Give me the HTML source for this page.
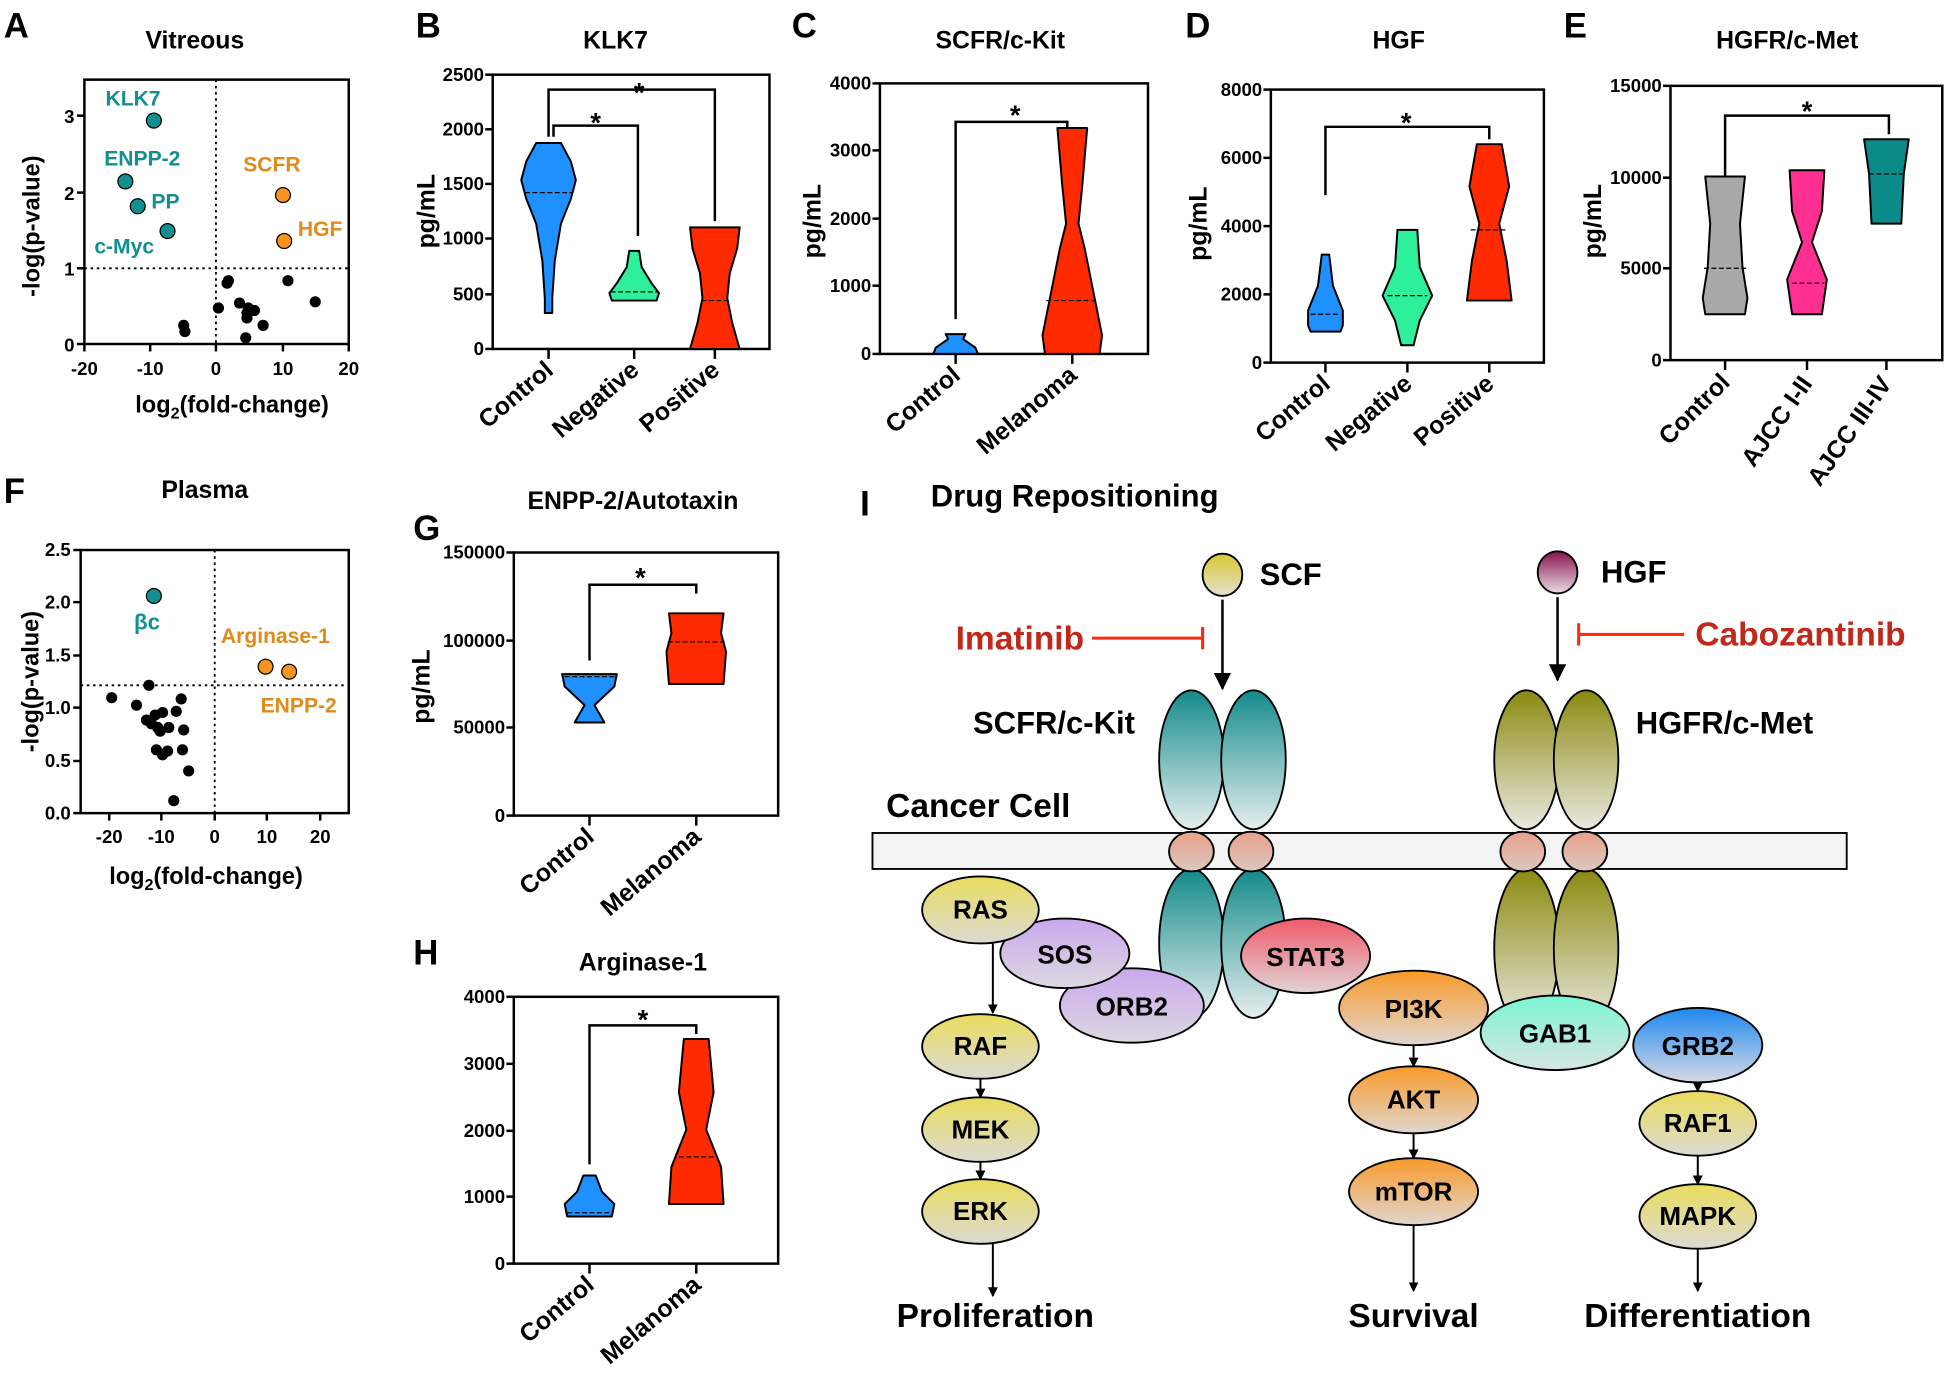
<!DOCTYPE html>
<html><head><meta charset="utf-8"><style>
html,body{margin:0;padding:0;background:#fff}
svg{display:block}
text{font-family:"Liberation Sans",Arial,sans-serif;font-weight:bold}
</style></head><body>
<svg width="1946" height="1383" viewBox="0 0 1568 1114" xmlns="http://www.w3.org/2000/svg">
<defs>
<linearGradient id="gy" x1="0" y1="0" x2="0" y2="1"><stop offset="0" stop-color="#e8dc5c"/><stop offset="1" stop-color="#dcdad4"/></linearGradient>
<linearGradient id="gp" x1="0" y1="0" x2="0" y2="1"><stop offset="0" stop-color="#c9a8ee"/><stop offset="1" stop-color="#dcd8e0"/></linearGradient>
<linearGradient id="gr" x1="0" y1="0" x2="0" y2="1"><stop offset="0" stop-color="#f05a6a"/><stop offset="1" stop-color="#e0d4d6"/></linearGradient>
<linearGradient id="go" x1="0" y1="0" x2="0" y2="1"><stop offset="0" stop-color="#f89a2a"/><stop offset="1" stop-color="#e0d6d0"/></linearGradient>
<linearGradient id="gm" x1="0" y1="0" x2="0" y2="1"><stop offset="0" stop-color="#7af5d2"/><stop offset="1" stop-color="#d8e4e2"/></linearGradient>
<linearGradient id="gb" x1="0" y1="0" x2="0" y2="1"><stop offset="0" stop-color="#1e88f0"/><stop offset="1" stop-color="#d6dae4"/></linearGradient>
<linearGradient id="gt" x1="0" y1="0" x2="0" y2="1"><stop offset="0" stop-color="#138a8a"/><stop offset="1" stop-color="#e6eeee"/></linearGradient>
<linearGradient id="gol" x1="0" y1="0" x2="0" y2="1"><stop offset="0" stop-color="#8a8a10"/><stop offset="1" stop-color="#eae8e0"/></linearGradient>
<linearGradient id="gs" x1="0" y1="0" x2="0" y2="1"><stop offset="0" stop-color="#d8c830"/><stop offset="1" stop-color="#e4e0d0"/></linearGradient>
<linearGradient id="gh" x1="0" y1="0" x2="0" y2="1"><stop offset="0" stop-color="#8a1050"/><stop offset="1" stop-color="#e6dce0"/></linearGradient>
<linearGradient id="gc" x1="0" y1="0" x2="0" y2="1"><stop offset="0" stop-color="#e8a08a"/><stop offset="1" stop-color="#dcc8c0"/></linearGradient>
<marker id="ar" markerWidth="8" markerHeight="8" refX="7" refY="4" orient="auto" markerUnits="userSpaceOnUse"><path d="M0,0 L8,4 L0,8 z" fill="#000"/></marker>
<marker id="ar2" markerWidth="14" markerHeight="14" refX="13" refY="7" orient="auto" markerUnits="userSpaceOnUse"><path d="M0,0 L14,7 L0,14 z" fill="#000"/></marker>
</defs>

<!-- Panel letters & titles -->
<g font-size="28"><text x="3" y="30">A</text><text x="335" y="30">B</text><text x="638" y="30">C</text><text x="955" y="30">D</text><text x="1260" y="30">E</text><text x="3" y="405">F</text><text x="333" y="435">G</text><text x="333" y="777">H</text><text x="693" y="415">I</text></g>
<g font-size="20" text-anchor="middle"><text x="157" y="39">Vitreous</text><text x="496" y="39">KLK7</text><text x="806" y="39">SCFR/c-Kit</text><text x="1127" y="39">HGF</text><text x="1440" y="39">HGFR/c-Met</text><text x="165" y="401">Plasma</text><text x="510" y="410">ENPP-2/Autotaxin</text><text x="518" y="782">Arginase-1</text></g>

<!-- Panel A -->
<rect x="68" y="64" width="213" height="213" fill="none" stroke="#000" stroke-width="2"/>
<line x1="174" y1="64" x2="174" y2="277" stroke="#000" stroke-dasharray="2,3" stroke-width="1.5"/>
<line x1="68" y1="216" x2="281" y2="216" stroke="#000" stroke-dasharray="2,3" stroke-width="1.5"/>
<g stroke="#000" stroke-width="2"><line x1="62" y1="93" x2="68" y2="93"/><line x1="62" y1="155" x2="68" y2="155"/><line x1="62" y1="216" x2="68" y2="216"/><line x1="62" y1="277" x2="68" y2="277"/>
<line x1="68" y1="277" x2="68" y2="283"/><line x1="121" y1="277" x2="121" y2="283"/><line x1="174" y1="277" x2="174" y2="283"/><line x1="228" y1="277" x2="228" y2="283"/><line x1="281" y1="277" x2="281" y2="283"/></g>
<g font-size="15" text-anchor="end"><text x="60" y="99">3</text><text x="60" y="161">2</text><text x="60" y="222">1</text><text x="60" y="283">0</text></g>
<g font-size="15" text-anchor="middle"><text x="68" y="302">-20</text><text x="121" y="302">-10</text><text x="174" y="302">0</text><text x="228" y="302">10</text><text x="281" y="302">20</text></g>
<text x="187" y="332" font-size="19" text-anchor="middle">log<tspan font-size="13" dy="5">2</tspan><tspan dy="-5">(fold-change)</tspan></text>
<text transform="translate(32,182) rotate(-90)" font-size="19" text-anchor="middle">-log(p-value)</text>
<g fill="#138f8f" stroke="#000" stroke-width="1"><circle cx="124" cy="97" r="6"/><circle cx="101" cy="146" r="6"/><circle cx="111" cy="166" r="6"/><circle cx="135" cy="186" r="6"/></g>
<g fill="#f5941e" stroke="#000" stroke-width="1"><circle cx="228" cy="157" r="6"/><circle cx="229" cy="194" r="6"/></g>
<g fill="#000"><circle cx="183" cy="228" r="4.5"/><circle cx="184" cy="226" r="4.5"/><circle cx="232" cy="226" r="4.5"/><circle cx="254" cy="243" r="4.5"/><circle cx="176" cy="248" r="4.5"/><circle cx="193" cy="244" r="4.5"/><circle cx="200" cy="248" r="4.5"/><circle cx="205" cy="250" r="4.5"/><circle cx="199" cy="252" r="4.5"/><circle cx="199" cy="256" r="4.5"/><circle cx="212" cy="262" r="4.5"/><circle cx="148" cy="262" r="4.5"/><circle cx="149" cy="267" r="4.5"/><circle cx="198" cy="272" r="4.5"/></g>
<g font-size="17" fill="#138f8f"><text x="85" y="85">KLK7</text><text x="84" y="133">ENPP-2</text><text x="122" y="168">PP</text><text x="76" y="204">c-Myc</text></g>
<g font-size="17" fill="#e08a1a"><text x="196" y="138">SCFR</text><text x="240" y="190">HGF</text></g>

<g stroke="#000" stroke-width="2" fill="none">
<rect x="397" y="60" width="223" height="221"/>
<line x1="391" y1="60" x2="397" y2="60"/><line x1="391" y1="104" x2="397" y2="104"/><line x1="391" y1="148" x2="397" y2="148"/><line x1="391" y1="192" x2="397" y2="192"/><line x1="391" y1="237" x2="397" y2="237"/><line x1="391" y1="281" x2="397" y2="281"/>
<line x1="442" y1="281" x2="442" y2="289"/><line x1="511" y1="281" x2="511" y2="289"/><line x1="576" y1="281" x2="576" y2="289"/>
<polyline points="442,110 442,72 576,72 576,178"/><polyline points="446,110 446,101 514,101 514,190"/>
<rect x="709" y="67" width="216" height="218"/>
<line x1="703" y1="67" x2="709" y2="67"/><line x1="703" y1="121" x2="709" y2="121"/><line x1="703" y1="176" x2="709" y2="176"/><line x1="703" y1="230" x2="709" y2="230"/><line x1="703" y1="285" x2="709" y2="285"/>
<line x1="770" y1="285" x2="770" y2="293"/><line x1="864" y1="285" x2="864" y2="293"/>
<polyline points="770,257 770,98 860,98 860,103"/>
<rect x="1024" y="72" width="220" height="220"/>
<line x1="1018" y1="72" x2="1024" y2="72"/><line x1="1018" y1="127" x2="1024" y2="127"/><line x1="1018" y1="182" x2="1024" y2="182"/><line x1="1018" y1="237" x2="1024" y2="237"/><line x1="1018" y1="292" x2="1024" y2="292"/>
<line x1="1068" y1="292" x2="1068" y2="300"/><line x1="1134" y1="292" x2="1134" y2="300"/><line x1="1200" y1="292" x2="1200" y2="300"/>
<polyline points="1068,157 1068,102 1200,102 1200,112"/>
<rect x="1346" y="69" width="219" height="221"/>
<line x1="1340" y1="69" x2="1346" y2="69"/><line x1="1340" y1="143" x2="1346" y2="143"/><line x1="1340" y1="216" x2="1346" y2="216"/><line x1="1340" y1="290" x2="1346" y2="290"/>
<line x1="1390" y1="290" x2="1390" y2="298"/><line x1="1456" y1="290" x2="1456" y2="298"/><line x1="1520" y1="290" x2="1520" y2="298"/>
<polyline points="1390,148 1390,93 1522,93 1522,108"/>
<rect x="65" y="443" width="216" height="212"/>
<line x1="59" y1="443" x2="65" y2="443"/><line x1="59" y1="485" x2="65" y2="485"/><line x1="59" y1="528" x2="65" y2="528"/><line x1="59" y1="570" x2="65" y2="570"/><line x1="59" y1="613" x2="65" y2="613"/><line x1="59" y1="655" x2="65" y2="655"/>
<rect x="414" y="445" width="213" height="212"/>
<line x1="408" y1="445" x2="414" y2="445"/><line x1="408" y1="516" x2="414" y2="516"/><line x1="408" y1="586" x2="414" y2="586"/><line x1="408" y1="657" x2="414" y2="657"/>
<line x1="475" y1="657" x2="475" y2="665"/><line x1="561" y1="657" x2="561" y2="665"/>
<polyline points="475,532 475,471 561,471 561,478"/>
<rect x="414" y="803" width="213" height="215"/>
<line x1="408" y1="803" x2="414" y2="803"/><line x1="408" y1="857" x2="414" y2="857"/><line x1="408" y1="911" x2="414" y2="911"/><line x1="408" y1="964" x2="414" y2="964"/><line x1="408" y1="1018" x2="414" y2="1018"/>
<line x1="475" y1="1018" x2="475" y2="1026"/><line x1="561" y1="1018" x2="561" y2="1026"/>
<polyline points="475,938 475,826 561,826 561,833"/>
</g>
<g font-size="22" text-anchor="middle"><text x="515" y="82">*</text><text x="480" y="106">*</text><text x="818" y="100">*</text><text x="1133" y="106">*</text><text x="1456" y="97">*</text><text x="516" y="473">*</text><text x="518" y="829">*</text></g>

<g font-size="15" text-anchor="end">
<text x="390" y="65">2500</text><text x="390" y="109">2000</text><text x="390" y="153">1500</text><text x="390" y="197">1000</text><text x="390" y="242">500</text><text x="390" y="286">0</text>
<text x="702" y="72">4000</text><text x="702" y="126">3000</text><text x="702" y="181">2000</text><text x="702" y="235">1000</text><text x="702" y="290">0</text>
<text x="1017" y="77">8000</text><text x="1017" y="132">6000</text><text x="1017" y="187">4000</text><text x="1017" y="242">2000</text><text x="1017" y="297">0</text>
<text x="1339" y="74">15000</text><text x="1339" y="148">10000</text><text x="1339" y="221">5000</text><text x="1339" y="295">0</text>
<text x="57" y="448">2.5</text><text x="57" y="490">2.0</text><text x="57" y="533">1.5</text><text x="57" y="575">1.0</text><text x="57" y="618">0.5</text><text x="57" y="660">0.0</text>
<text x="407" y="450">150000</text><text x="407" y="521">100000</text><text x="407" y="591">50000</text><text x="407" y="662">0</text>
<text x="407" y="808">4000</text><text x="407" y="862">3000</text><text x="407" y="916">2000</text><text x="407" y="969">1000</text><text x="407" y="1023">0</text>
</g>
<g font-size="20" text-anchor="middle">
<text transform="translate(350,170) rotate(-90)">pg/mL</text><text transform="translate(661,178) rotate(-90)">pg/mL</text><text transform="translate(972,180) rotate(-90)">pg/mL</text><text transform="translate(1290,178) rotate(-90)">pg/mL</text><text transform="translate(346,553) rotate(-90)">pg/mL</text>
</g>
<g font-size="20" text-anchor="end">
<text transform="translate(447,300) rotate(-40)">Control</text><text transform="translate(516,300) rotate(-40)">Negative</text><text transform="translate(581,300) rotate(-40)">Positive</text>
<text transform="translate(775,304) rotate(-40)">Control</text><text transform="translate(869,304) rotate(-40)">Melanoma</text>
<text transform="translate(1073,311) rotate(-40)">Control</text><text transform="translate(1139,311) rotate(-40)">Negative</text><text transform="translate(1205,311) rotate(-40)">Positive</text>
<text transform="translate(1395,309) rotate(-45)">Control</text><text transform="translate(1461,309) rotate(-55)">AJCC I-II</text><text transform="translate(1525,309) rotate(-55)">AJCC III-IV</text>
<text transform="translate(480,676) rotate(-40)">Control</text><text transform="translate(566,676) rotate(-40)">Melanoma</text>
<text transform="translate(480,1037) rotate(-40)">Control</text><text transform="translate(566,1037) rotate(-40)">Melanoma</text>
</g>

<line x1="173" y1="443" x2="173" y2="655" stroke="#000" stroke-dasharray="2,3" stroke-width="1.5"/>
<line x1="65" y1="552" x2="281" y2="552" stroke="#000" stroke-dasharray="2,3" stroke-width="1.5"/>
<g stroke="#000" stroke-width="2"><line x1="88" y1="655" x2="88" y2="661"/><line x1="130" y1="655" x2="130" y2="661"/><line x1="173" y1="655" x2="173" y2="661"/><line x1="215" y1="655" x2="215" y2="661"/><line x1="258" y1="655" x2="258" y2="661"/></g>
<g font-size="15" text-anchor="middle"><text x="88" y="679">-20</text><text x="130" y="679">-10</text><text x="173" y="679">0</text><text x="215" y="679">10</text><text x="258" y="679">20</text></g>
<text x="166" y="712" font-size="19" text-anchor="middle">log<tspan font-size="13" dy="5">2</tspan><tspan dy="-5">(fold-change)</tspan></text>
<text transform="translate(31,549) rotate(-90)" font-size="19" text-anchor="middle">-log(p-value)</text>
<circle cx="124" cy="480" r="6" fill="#138f8f" stroke="#000"/>
<circle cx="214" cy="537" r="6" fill="#f5941e" stroke="#000"/><circle cx="233" cy="541" r="6" fill="#f5941e" stroke="#000"/>
<text x="108" y="507" font-size="18" fill="#138f8f">βc</text>
<g font-size="17" fill="#e08a1a"><text x="178" y="518">Arginase-1</text><text x="210" y="574">ENPP-2</text></g>
<g fill="#000"><circle cx="90" cy="562" r="4.5"/><circle cx="110" cy="568" r="4.5"/><circle cx="120" cy="552" r="4.5"/><circle cx="146" cy="563" r="4.5"/><circle cx="142" cy="573" r="4.5"/><circle cx="118" cy="580" r="4.5"/><circle cx="125" cy="576" r="4.5"/><circle cx="131" cy="574" r="4.5"/><circle cx="136" cy="586" r="4.5"/><circle cx="127" cy="586" r="4.5"/><circle cx="122" cy="583" r="4.5"/><circle cx="148" cy="588" r="4.5"/><circle cx="126" cy="604" r="4.5"/><circle cx="131" cy="608" r="4.5"/><circle cx="135" cy="605" r="4.5"/><circle cx="147" cy="604" r="4.5"/><circle cx="152" cy="621" r="4.5"/><circle cx="140" cy="645" r="4.5"/><circle cx="129" cy="589" r="4.5"/></g>

<g stroke="#000" stroke-width="1.6" stroke-linejoin="round">
<polygon fill="#1e90ff" points="432,115 424,130 420,145 424,160 432,180 437,210 439,240 439,252 445,252 445,240 447,210 452,180 460,160 464,145 460,130 452,115"/>
<polygon fill="#2ef09a" points="507,202 505,215 497,228 491,236 493,242 529,242 531,236 525,228 517,215 515,202"/>
<polygon fill="#ff2a00" points="556,183 558,200 564,220 566,240 562,260 556,281 596,281 590,260 586,240 588,220 594,200 596,183"/>
<polygon fill="#1e90ff" points="762,269 764,273 754,280 752,285 788,285 786,280 776,273 778,269"/>
<polygon fill="#ff2a00" points="852,103 856,150 859,180 854,200 846,240 840,270 842,285 886,285 888,270 882,240 874,200 869,180 872,150 876,103"/>
<polygon fill="#1e90ff" points="1065,205 1062,230 1054,250 1054,262 1056,267 1080,267 1082,262 1082,250 1074,230 1071,205"/>
<polygon fill="#2ef09a" points="1126,185 1124,215 1114,238 1124,258 1129,278 1139,278 1144,258 1154,238 1144,215 1142,185"/>
<polygon fill="#ff2a00" points="1190,116 1184,150 1192,180 1186,210 1182,242 1218,242 1214,210 1208,180 1216,150 1210,116"/>
<polygon fill="#a8a8a8" points="1374,142 1378,180 1376,215 1372,240 1374,253 1406,253 1408,240 1404,215 1402,180 1406,142"/>
<polygon fill="#ff2f92" points="1442,137 1444,170 1452,195 1440,225 1444,253 1468,253 1472,225 1460,195 1468,170 1470,137"/>
<polygon fill="#0b8a8a" points="1502,112 1506,140 1508,180 1532,180 1534,140 1538,112"/>
<polygon fill="#1e90ff" points="453,543 455,553 471,568 463,582 487,582 479,568 495,553 497,543"/>
<polygon fill="#ff2a00" points="539,494 541,510 537,525 539,551 583,551 585,525 581,510 583,494"/>
<polygon fill="#1e90ff" points="470,947 465,960 455,970 457,980 493,980 495,970 485,960 480,947"/>
<polygon fill="#ff2a00" points="551,837 547,880 553,910 541,940 539,970 583,970 581,940 569,910 575,880 571,837"/>
</g>
<g stroke="#000" stroke-width="1" stroke-dasharray="4,2"><line x1="423" y1="155" x2="461" y2="155"/><line x1="492" y1="235" x2="530" y2="235"/><line x1="565" y1="242" x2="587" y2="242"/><line x1="843" y1="242" x2="885" y2="242"/><line x1="1056" y1="253" x2="1080" y2="253"/><line x1="1118" y1="238" x2="1150" y2="238"/><line x1="1185" y1="185" x2="1215" y2="185"/><line x1="1373" y1="216" x2="1407" y2="216"/><line x1="1444" y1="228" x2="1470" y2="228"/><line x1="1506" y1="140" x2="1534" y2="140"/><line x1="455" y1="545" x2="495" y2="545"/><line x1="538" y1="517" x2="584" y2="517"/><line x1="457" y1="977" x2="493" y2="977"/><line x1="547" y1="932" x2="575" y2="932"/></g>

<!-- Panel I -->
<text x="750" y="408" font-size="25">Drug Repositioning</text>
<ellipse cx="985" cy="463" rx="16" ry="17" fill="url(#gs)" stroke="#000" stroke-width="1.5"/>
<text x="1015" y="471" font-size="25">SCF</text>
<ellipse cx="1255" cy="461" rx="16" ry="17" fill="url(#gh)" stroke="#000" stroke-width="1.5"/>
<text x="1290" y="469" font-size="25">HGF</text>
<line x1="985" y1="483" x2="985" y2="555" stroke="#000" stroke-width="2" marker-end="url(#ar2)"/>
<line x1="1255" y1="481" x2="1255" y2="548" stroke="#000" stroke-width="2" marker-end="url(#ar2)"/>
<text x="770" y="523" font-size="27" fill="#c0281a">Imatinib</text>
<line x1="880" y1="514" x2="969" y2="514" stroke="#ff2a10" stroke-width="2.5"/><line x1="969" y1="505" x2="969" y2="523" stroke="#ff2a10" stroke-width="2.5"/>
<text x="1366" y="520" font-size="27" fill="#c0281a">Cabozantinib</text>
<line x1="1272" y1="511" x2="1357" y2="511" stroke="#ff2a10" stroke-width="2.5"/><line x1="1272" y1="502" x2="1272" y2="520" stroke="#ff2a10" stroke-width="2.5"/>
<text x="784" y="591" font-size="25">SCFR/c-Kit</text>
<text x="1318" y="591" font-size="25">HGFR/c-Met</text>
<text x="714" y="658" font-size="27">Cancer Cell</text>
<g stroke="#000" stroke-width="1.5">
<ellipse cx="960" cy="612" rx="26" ry="56" fill="url(#gt)"/><ellipse cx="1010" cy="612" rx="26" ry="56" fill="url(#gt)"/>
<ellipse cx="1230" cy="612" rx="26" ry="56" fill="url(#gol)"/><ellipse cx="1278" cy="612" rx="26" ry="56" fill="url(#gol)"/>
<rect x="703" y="671" width="785" height="29" fill="#f3f3f3"/>
<ellipse cx="960" cy="760" rx="26" ry="60" fill="url(#gt)"/><ellipse cx="1010" cy="760" rx="26" ry="60" fill="url(#gt)"/>
<ellipse cx="1230" cy="764" rx="26" ry="64" fill="url(#gol)"/><ellipse cx="1278" cy="764" rx="26" ry="64" fill="url(#gol)"/>
<ellipse cx="960" cy="686" rx="18" ry="16" fill="url(#gc)"/><ellipse cx="1008" cy="686" rx="18" ry="16" fill="url(#gc)"/>
<ellipse cx="1227" cy="686" rx="18" ry="16" fill="url(#gc)"/><ellipse cx="1277" cy="686" rx="18" ry="16" fill="url(#gc)"/>
<ellipse cx="912" cy="810" rx="58" ry="30" fill="url(#gp)"/>
<ellipse cx="858" cy="768" rx="52" ry="28" fill="url(#gp)"/>
<ellipse cx="790" cy="733" rx="47" ry="27" fill="url(#gy)"/>
<ellipse cx="1139" cy="812" rx="60" ry="30" fill="url(#go)"/>
<ellipse cx="1052" cy="770" rx="52" ry="30" fill="url(#gr)"/>
<ellipse cx="1368" cy="842" rx="52" ry="30" fill="url(#gb)"/>
<ellipse cx="1253" cy="832" rx="60" ry="30" fill="url(#gm)"/>
<ellipse cx="790" cy="843" rx="47" ry="26" fill="url(#gy)"/>
<ellipse cx="790" cy="910" rx="47" ry="26" fill="url(#gy)"/>
<ellipse cx="790" cy="976" rx="47" ry="26" fill="url(#gy)"/>
<ellipse cx="1139" cy="886" rx="52" ry="27" fill="url(#go)"/>
<ellipse cx="1139" cy="960" rx="52" ry="27" fill="url(#go)"/>
<ellipse cx="1368" cy="905" rx="47" ry="26" fill="url(#gy)"/>
<ellipse cx="1368" cy="980" rx="47" ry="26" fill="url(#gy)"/>
</g>
<g stroke="#000" stroke-width="1.6" marker-end="url(#ar)">
<line x1="800" y1="760" x2="800" y2="816"/><line x1="790" y1="869" x2="790" y2="884"/><line x1="790" y1="936" x2="790" y2="950"/><line x1="800" y1="1002" x2="800" y2="1044"/>
<line x1="1139" y1="842" x2="1139" y2="859"/><line x1="1139" y1="913" x2="1139" y2="933"/><line x1="1139" y1="987" x2="1139" y2="1040"/>
<line x1="1368" y1="872" x2="1368" y2="879"/><line x1="1368" y1="931" x2="1368" y2="954"/><line x1="1368" y1="1006" x2="1368" y2="1040"/>
</g>
<g font-size="21" text-anchor="middle">
<text x="790" y="740">RAS</text><text x="858" y="776">SOS</text><text x="912" y="818">ORB2</text><text x="1052" y="778">STAT3</text><text x="1139" y="820">PI3K</text><text x="1253" y="840">GAB1</text><text x="1368" y="850">GRB2</text><text x="790" y="850">RAF</text><text x="790" y="917">MEK</text><text x="790" y="983">ERK</text><text x="1139" y="893">AKT</text><text x="1139" y="967">mTOR</text><text x="1368" y="912">RAF1</text><text x="1368" y="987">MAPK</text>
</g>
<g font-size="27" text-anchor="middle"><text x="802" y="1069">Proliferation</text><text x="1139" y="1069">Survival</text><text x="1368" y="1069">Differentiation</text></g>
</svg>
</body></html>
